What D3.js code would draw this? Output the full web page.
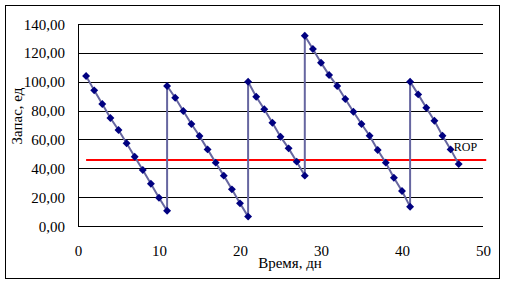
<!DOCTYPE html>
<html><head><meta charset="utf-8">
<script src="https://cdn.jsdelivr.net/npm/d3@7"></script>
<style>body{margin:0;background:#fff}svg{display:block}svg text{font-family:"Times New Roman","Liberation Serif",serif !important}</style>
</head><body>
<svg id="c" width="506" height="285"></svg>
<script>
const days = [1,2,3,4,5,6,7,8,9,10,11,
  11,12,13,14,15,16,17,18,19,20,21,
  21,22,23,24,25,26,27,28,
  28,29,30,31,32,33,34,35,36,37,38,39,40,41,
  41,42,43,44,45,46,47];
const stock = [104,94,84.5,74.8,66.5,57.3,48,38.8,29.3,19.6,10.6,
  97,88.9,79.7,70.7,62.4,53.1,43.9,34.9,25.4,15.7,6.5,
  100,89.6,80.9,71.6,61.9,53.8,44.6,34.9,
  131.9,122.7,113.2,104.6,97,88,79.2,70.7,62.6,52.7,43.9,33.5,24.3,13.4,
  100,91.2,82,73,62.6,53.1,42.9];
const ropDays = [1, 50.4];
const ropValue = [45.7, 45.7];
const ropLabel = "ROP";
const yTicks = [0,20,40,60,80,100,120,140];
const xTicks = [0,10,20,30,40,50];
const xTitle = "Время, дн";
const yTitle = "Запас, ед";

const FONT = "Times New Roman";
const svg = d3.select("#c").attr("font-family", FONT);
svg.append("rect").attr("x",5.5).attr("y",5.5).attr("width",494).attr("height",273)
  .attr("fill","#fff").attr("stroke","#000").attr("stroke-width",1);

const x = d3.scaleLinear().domain([0,50]).range([78,483]);
const y = d3.scaleLinear().domain([0,140]).range([226,24]);
const fmt = v => d3.format(".2f")(v).replace(".", ",");

const yAxis = d3.axisLeft(y).tickValues(yTicks).tickFormat(fmt).tickSize(-(483-78)).tickPadding(13);
const gy = svg.append("g").attr("transform","translate(78,0)").call(yAxis).attr("font-family", FONT);
gy.select(".domain").remove();
gy.selectAll(".tick line").attr("stroke","#000").attr("shape-rendering","crispEdges");
gy.selectAll(".tick text").attr("font-size",15).attr("fill","#000").attr("dy","0.34em");
svg.append("line").attr("x1",78).attr("x2",78).attr("y1",y(140)).attr("y2",y(0))
  .attr("stroke","#000").attr("shape-rendering","crispEdges");

const xAxis = d3.axisBottom(x).tickValues(xTicks).tickFormat(d3.format("d")).tickSize(0).tickPadding(19);
const gx = svg.append("g").attr("transform","translate(0,226)").call(xAxis).attr("font-family", FONT);
gx.select(".domain").remove();
gx.selectAll(".tick text").attr("font-size",15).attr("fill","#000");
svg.append("line").attr("x1",78).attr("x2",483).attr("y1",226).attr("y2",226)
  .attr("stroke","#000").attr("shape-rendering","crispEdges");

svg.append("line").attr("x1",x(ropDays[0])).attr("x2",x(ropDays[1]))
  .attr("y1",y(ropValue[0])).attr("y2",y(ropValue[1]))
  .attr("stroke","#ff0000").attr("stroke-width",2);

const pts = days.map((d,i)=>[d,stock[i]]);
svg.append("path").datum(pts)
  .attr("d", d3.line().x(d=>x(d[0])).y(d=>y(d[1])))
  .attr("fill","none").attr("stroke","#6666a0").attr("stroke-width",2);

svg.append("g").selectAll("path").data(pts).join("path")
  .attr("d", d3.symbol().type(d3.symbolDiamond2).size(40))
  .attr("transform", d=>`translate(${x(d[0])},${y(d[1])})`)
  .attr("fill","#000080");

svg.append("text").attr("x",x(46.4)).attr("y",y(45.7)-9).attr("font-size",12).text(ropLabel);

svg.append("text").attr("x",290).attr("y",268).attr("text-anchor","middle").attr("font-size",15).text(xTitle);
svg.append("text").attr("transform","translate(22,116) rotate(-90)").attr("text-anchor","middle").attr("font-size",15).text(yTitle);
</script>
</body></html>
